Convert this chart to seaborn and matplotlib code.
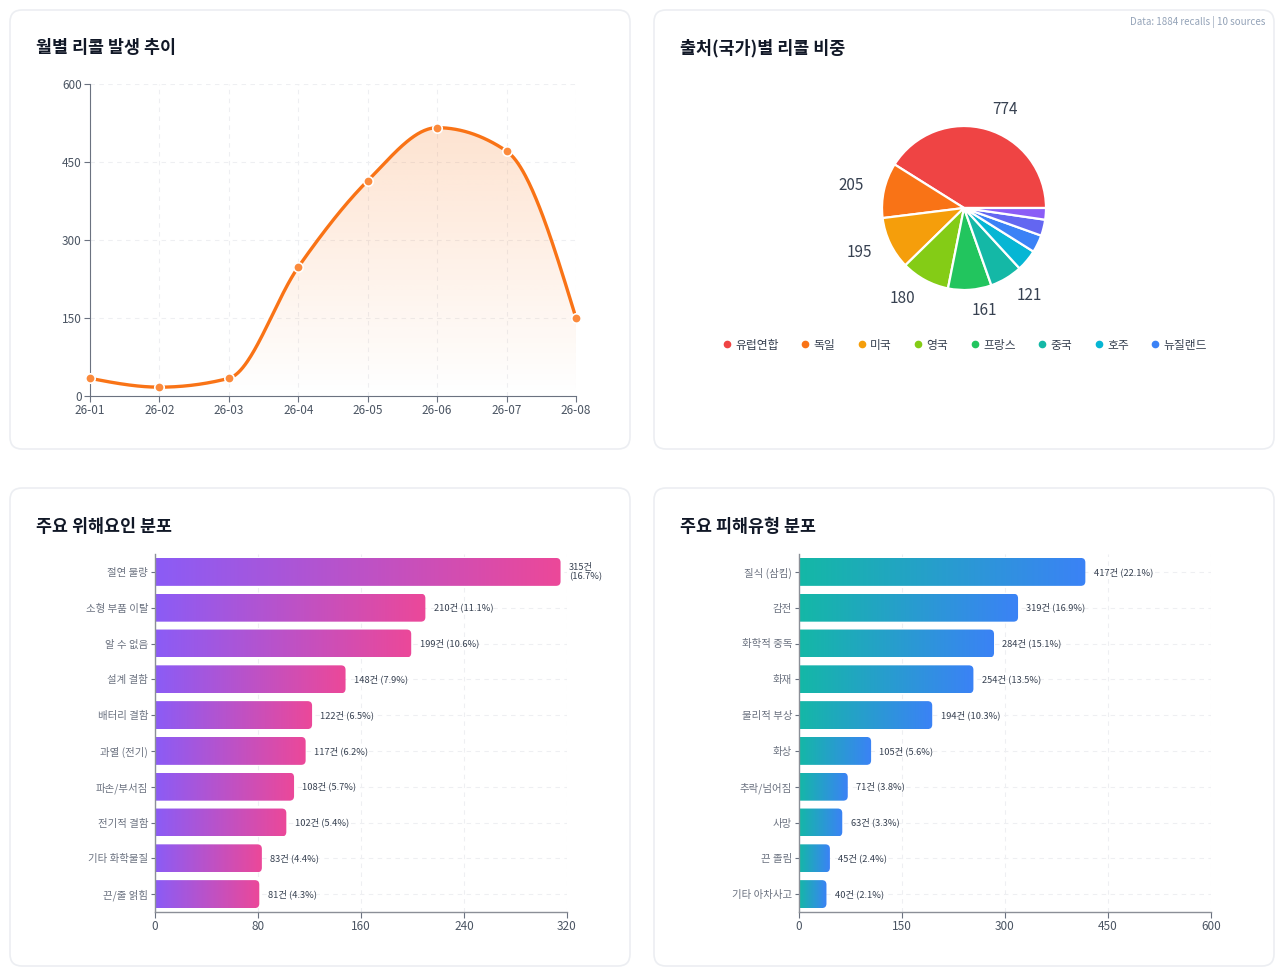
import numpy as np
import pandas as pd
import seaborn as sns
import matplotlib
matplotlib.use("Agg")
import matplotlib.pyplot as plt
from matplotlib.patches import FancyBboxPatch
from matplotlib.transforms import IdentityTransform
from matplotlib.colors import LinearSegmentedColormap, to_rgb
from matplotlib.lines import Line2D

# ---- data ----
months = ["26-01", "26-02", "26-03", "26-04", "26-05", "26-06", "26-07", "26-08"]
monthly_counts = [34, 17, 34, 248, 414, 516, 471, 150]

countries = ["유럽연합", "독일", "미국", "영국", "프랑스", "중국", "호주", "뉴질랜드", "캐나다", "일본"]
country_counts = [774, 205, 195, 180, 161, 121, 80, 65, 60, 43]
country_colors = ["#ef4444", "#f97316", "#f59e0b", "#84cc16", "#22c55e",
                  "#14b8a6", "#06b6d4", "#3b82f6", "#6366f1", "#8b5cf6"]

hazards = ["절연 불량", "소형 부품 이탈", "알 수 없음", "설계 결함", "배터리 결함",
           "과열 (전기)", "파손/부서짐", "전기적 결함", "기타 화학물질", "끈/줄 얽힘"]
hazard_counts = [315, 210, 199, 148, 122, 117, 108, 102, 83, 81]

injuries = ["질식 (삼킴)", "감전", "화학적 중독", "화재", "물리적 부상",
            "화상", "추락/넘어짐", "사망", "끈 졸림", "기타 아차사고"]
injury_counts = [417, 319, 284, 254, 194, 105, 71, 63, 45, 40]

total_recalls = 1884
n_sources = 10

W, H = 1280, 974

sns.set_style("white")
plt.rcParams["font.family"] = ["Noto Sans CJK KR", "DejaVu Sans"]

fig = plt.figure(figsize=(W / 100, H / 100), dpi=100)
fig.patch.set_facecolor("white")


def px_axes(left, top, right, bottom):
    ax = fig.add_axes([left / W, 1 - bottom / H, (right - left) / W, (bottom - top) / H])
    ax.patch.set_alpha(0)
    return ax


# cards
for (l, t, r, b) in [(10, 10, 630, 449), (654, 10, 1274, 449),
                     (10, 488, 630, 966), (654, 488, 1274, 966)]:
    card = FancyBboxPatch((l, H - b), r - l, b - t, boxstyle="round,pad=0,rounding_size=12",
                          transform=IdentityTransform(), facecolor="white",
                          edgecolor="#eceef2", linewidth=1.2, zorder=-5)
    fig.patches.append(card)

title_kw = dict(fontsize=12.5, fontweight="bold", color="#111827", va="center", ha="left")
fig.text(36 / W, 1 - 48 / H, "월별 리콜 발생 추이", **title_kw)
fig.text(680 / W, 1 - 48 / H, "출처(국가)별 리콜 비중", **title_kw)
fig.text(36 / W, 1 - 527 / H, "주요 위해요인 분포", **title_kw)
fig.text(680 / W, 1 - 527 / H, "주요 피해유형 분포", **title_kw)
fig.text(1265 / W, 1 - 22 / H, f"Data: {total_recalls} recalls | {n_sources} sources",
         ha="right", va="center", fontsize=7, color="#94a3b8")


def monotone_curve(x, y, n=60):
    # same shape as d3 curveMonotoneX
    x = np.asarray(x, float)
    y = np.asarray(y, float)
    h = np.diff(x)
    s = np.diff(y) / h
    t = np.zeros_like(y)
    for i in range(1, len(y) - 1):
        p = (s[i - 1] * h[i] + s[i] * h[i - 1]) / (h[i - 1] + h[i])
        t[i] = (np.sign(s[i - 1]) + np.sign(s[i])) * min(abs(s[i - 1]), abs(s[i]), 0.5 * abs(p))
    t[0] = (3 * s[0] - t[1]) / 2
    t[-1] = (3 * s[-1] - t[-2]) / 2
    xs, ys = [], []
    for i in range(len(h)):
        u = np.linspace(0, 1, n, endpoint=(i == len(h) - 1))
        h00 = 2 * u**3 - 3 * u**2 + 1
        h10 = u**3 - 2 * u**2 + u
        h01 = -2 * u**3 + 3 * u**2
        h11 = u**3 - u**2
        xs.append(x[i] + u * h[i])
        ys.append(h00 * y[i] + h10 * h[i] * t[i] + h01 * y[i + 1] + h11 * h[i] * t[i + 1])
    return np.concatenate(xs), np.concatenate(ys)


# ---- line chart ----
ax1 = px_axes(90, 84, 576, 396)
xi = np.arange(len(months))
xf, yf = monotone_curve(xi, monthly_counts)
poly = ax1.fill_between(xf, yf, 0, color="none", lw=0)
grad = np.zeros((256, 1, 4))
grad[..., :3] = to_rgb("#f97316")
grad[:, 0, 3] = np.linspace(0.0, 0.2, 256)
img = ax1.imshow(grad, extent=[0, len(months) - 1, 0, max(monthly_counts)], origin="lower",
                 aspect="auto", zorder=1)
img.set_clip_path(poly.get_paths()[0], ax1.transData)
sns.lineplot(x=xf, y=yf, ax=ax1, color="#f97316", lw=2.4, zorder=3)
sns.scatterplot(x=xi, y=monthly_counts, ax=ax1, s=46, color="#fb8a3c",
                edgecolor="white", linewidth=1.2, zorder=4, clip_on=False)
ax1.set_xlim(0, len(months) - 1)
ax1.set_ylim(0, 600)
ax1.set_xticks(xi)
ax1.set_xticklabels(months)
ax1.set_yticks(np.arange(0, 601, 150))
ax1.grid(True, ls=(0, (4, 4)), color="#eeeff2", lw=0.8)
ax1.set_axisbelow(True)
for sp in ["top", "right"]:
    ax1.spines[sp].set_visible(False)
for sp in ["left", "bottom"]:
    ax1.spines[sp].set_color("#6b7280")
ax1.tick_params(axis="both", colors="#6b7280", labelcolor="#4b5563", labelsize=8.5,
                length=4, width=0.8, pad=2, left=True, bottom=True)

# ---- pie chart ----
cx, cy, half = 964, 208, 120
axp = px_axes(cx - half, cy - half, cx + half, cy + half)
pie_labels = [str(v) if v / total_recalls >= 0.05 else "" for v in country_counts]
wedges, _ = axp.pie(country_counts, colors=country_colors, startangle=0, counterclock=True,
                    labels=pie_labels, labeldistance=1.25,
                    wedgeprops=dict(edgecolor="white", linewidth=1.6),
                    textprops=dict(fontsize=11, color="#374151"))
lim = half / 82
axp.set_xlim(-lim, lim)
axp.set_ylim(-lim, lim)
axp.set_aspect("equal")
axp.axis("off")

handles = [Line2D([], [], marker="o", ls="", color=c, markersize=4.5) for c in country_colors[:8]]
leg = fig.legend(handles, countries[:8], loc="center", bbox_to_anchor=(cx / W, 1 - 345 / H),
                 ncol=8, frameon=False, fontsize=8.5, handletextpad=0.2, columnspacing=1.75,
                 handlelength=1.0)
for txt in leg.get_texts():
    txt.set_color("#374151")


# ---- bar charts ----
def draw_bars(ax, cats, vals, c0, c1, xmax, step):
    df = pd.DataFrame({"cat": cats, "val": vals})
    sns.barplot(data=df, x="val", y="cat", ax=ax, width=0.78, color=c0, zorder=2)
    ax.set_xlim(0, xmax)
    ax.set_ylim(len(cats) - 0.5, -0.5)
    bb = ax.get_window_extent()
    ux = xmax / bb.width
    uy = len(cats) / bb.height
    rad = 4.5 * ux
    cmap = LinearSegmentedColormap.from_list("g", [c0, c1])
    gradient = np.linspace(0, 1, 256).reshape(1, -1)
    for patch in list(ax.patches):
        if patch.get_width() <= 0:
            continue
        w = patch.get_width()
        y0 = patch.get_y()
        hh = patch.get_height()
        patch.set_visible(False)
        shape = FancyBboxPatch((-rad, y0), w + rad, hh,
                               boxstyle=f"round,pad=0,rounding_size={rad}",
                               mutation_aspect=uy / ux, transform=ax.transData,
                               facecolor="none", edgecolor="none")
        ax.add_patch(shape)
        im = ax.imshow(gradient, cmap=cmap, extent=[0, w, y0 + hh, y0], aspect="auto",
                       interpolation="bicubic", zorder=2)
        im.set_clip_path(shape)
    for i, v in enumerate(vals):
        pct = v / total_recalls * 100
        sep = "\n" if v / xmax > 0.9 else " "
        ax.annotate(f"{v}건{sep}({pct:.1f}%)", (v, i), xytext=(6, 0), textcoords="offset points",
                    va="center", ha="left", fontsize=6.7, color="#374151", linespacing=0.95)
    ax.set_xlim(0, xmax)
    ax.set_ylim(len(cats) - 0.5, -0.5)
    ax.set_xticks(np.arange(0, xmax + 1, step))
    ax.set_xlabel("")
    ax.set_ylabel("")
    ax.grid(True, ls=(0, (4, 4)), color="#eeeff2", lw=0.8)
    ax.set_axisbelow(True)
    for sp in ["top", "right"]:
        ax.spines[sp].set_visible(False)
    for sp in ["left", "bottom"]:
        ax.spines[sp].set_color("#8b8f97")
        ax.spines[sp].set_linewidth(1.0)
    ax.tick_params(axis="x", colors="#6b7280", labelcolor="#4b5563", labelsize=8.5,
                   length=4, width=0.8, pad=2, bottom=True)
    ax.tick_params(axis="y", colors="#6b7280", labelcolor="#6b7280", labelsize=7.5,
                   length=3, width=0.8, pad=2, left=True)


ax3 = px_axes(155, 554, 567, 912)
draw_bars(ax3, hazards, hazard_counts, "#8b5cf6", "#ec4899", 320, 80)

ax4 = px_axes(799, 554, 1211, 912)
draw_bars(ax4, injuries, injury_counts, "#14b8a6", "#3b82f6", 600, 150)

fig.savefig("out.png", dpi=100, facecolor="white")
